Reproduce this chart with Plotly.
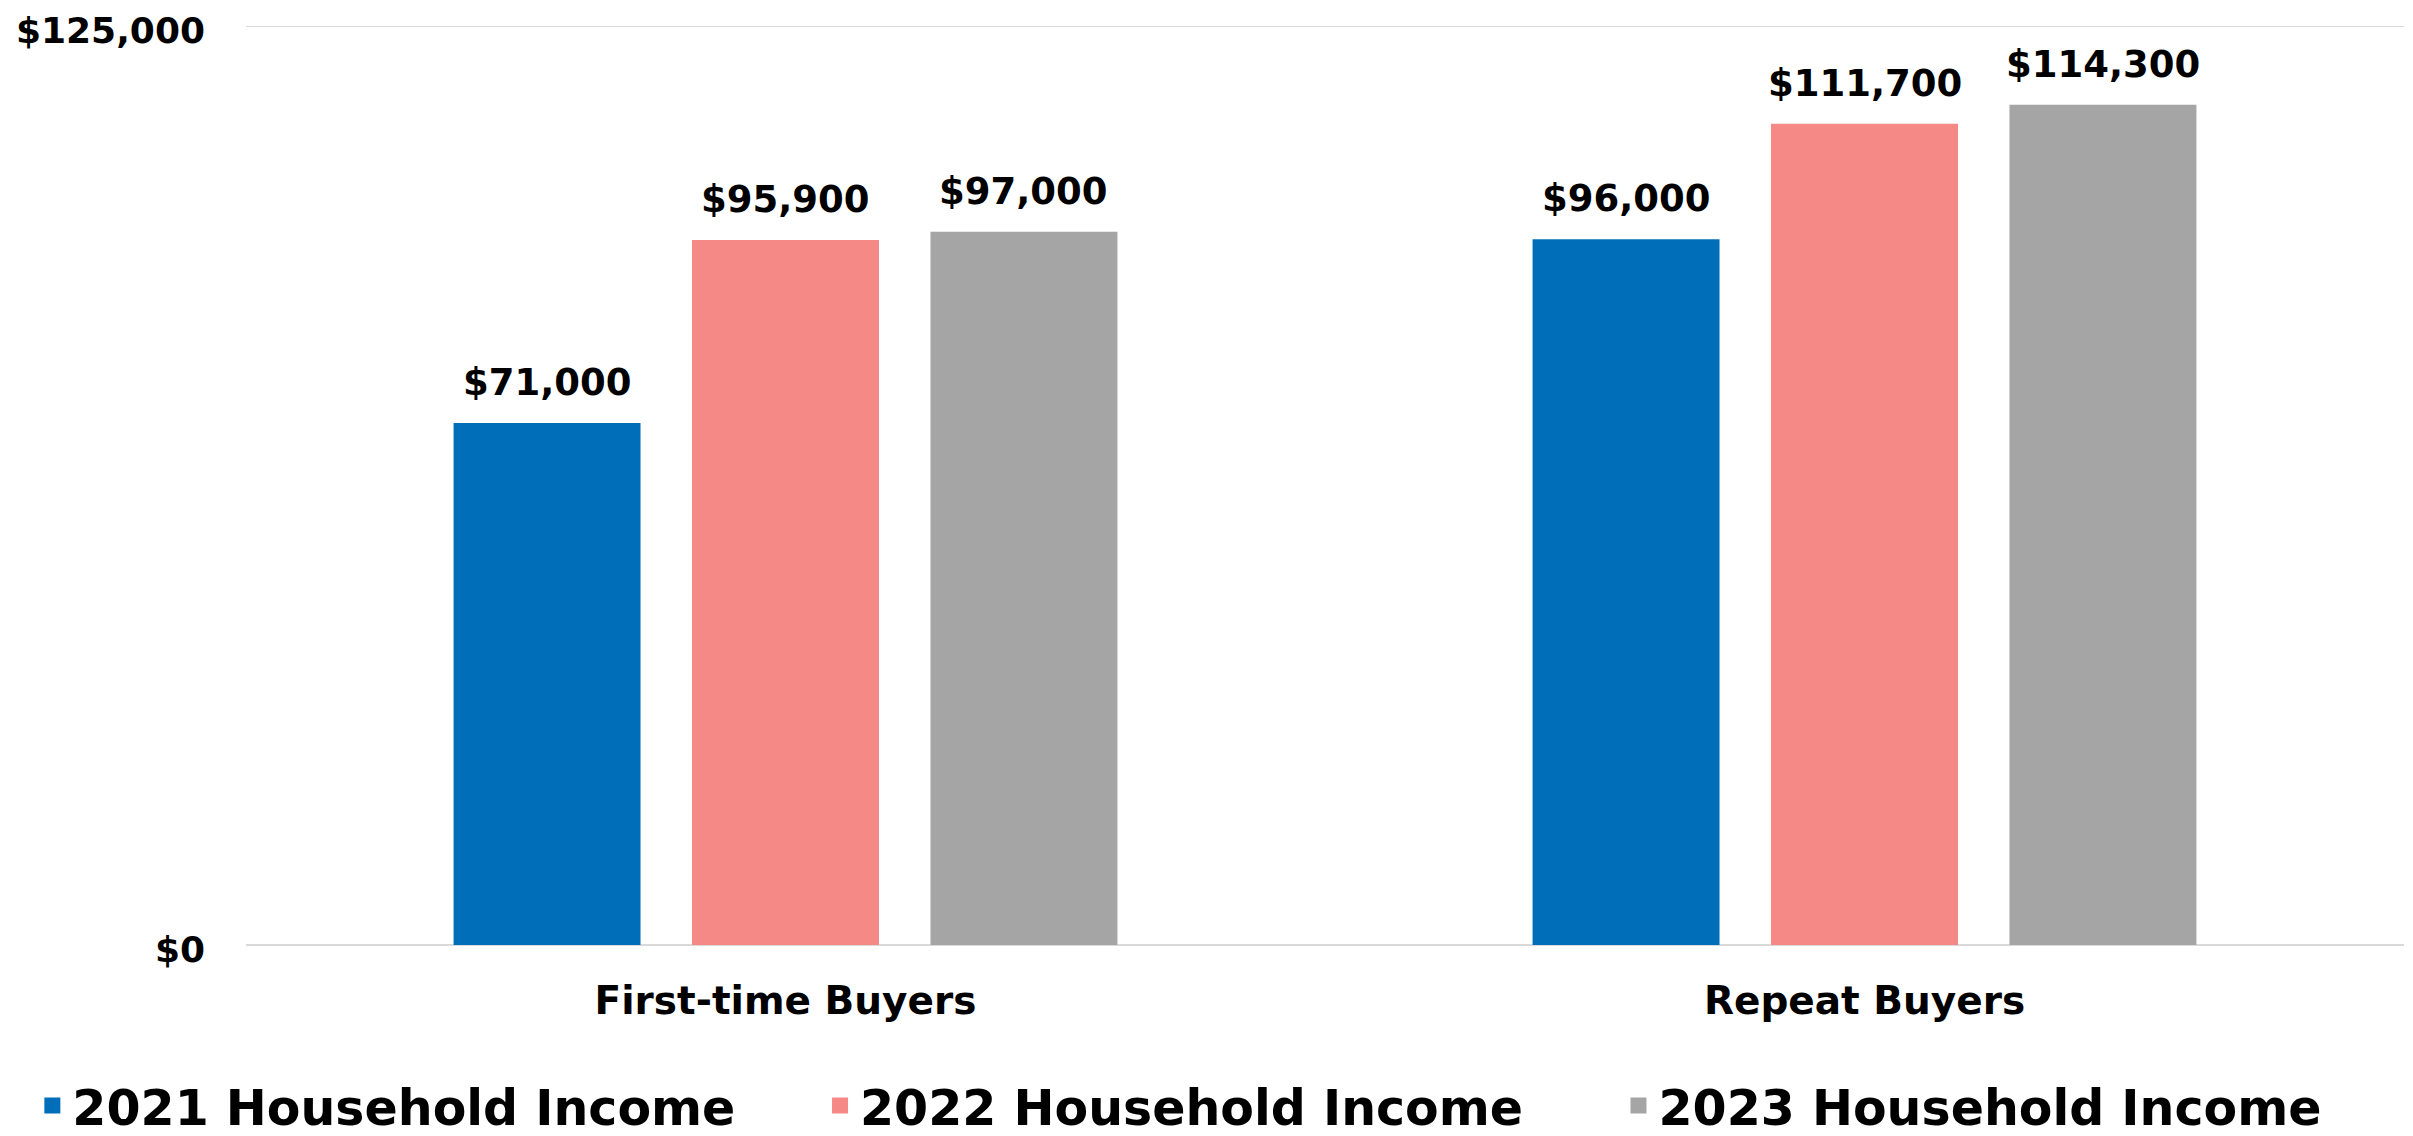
import plotly.graph_objects as go

categories = ["First-time Buyers", "Repeat Buyers"]
series_names = ["2021 Household Income", "2022 Household Income", "2023 Household Income"]
income_2021 = [71000, 96000]
income_2022 = [95900, 111700]
income_2023 = [97000, 114300]
colors = ["#006EB8", "#F48985", "#A5A5A5"]
y_tick_vals = [0, 125000]
y_tick_text = ["$0", "$125,000"]

FONT = "DejaVu Sans"
BARGAP = 0.337
BARGROUPGAP = 0.216
series_values = [income_2021, income_2022, income_2023]
legend_ids = ["legend", "legend2", "legend3"]
legend_x = [-0.099, 0.266, 0.636]

fig = go.Figure()
n = len(series_values)
slot = (1 - BARGAP) / n
for j, (name, vals, col) in enumerate(zip(series_names, series_values, colors)):
    fig.add_trace(go.Bar(
        x=categories, y=vals, name=f"<b>{name}</b>",
        marker=dict(color=col, line=dict(width=0)),
        legendgroup=name, showlegend=False,
        cliponaxis=False,
    ))
    # legend entry with a larger square swatch
    fig.add_trace(go.Scatter(
        x=[None], y=[None], mode="markers", name=f"<b>{name}</b>",
        marker=dict(color=col, symbol="square", size=30),
        legendgroup=name, legend=legend_ids[j], showlegend=True,
    ))
    for i, v in enumerate(vals):
        fig.add_annotation(
            x=i + (j - (n - 1) / 2) * slot, y=v, xref="x", yref="y",
            text=f"<b>${v:,.0f}</b>", showarrow=False,
            yanchor="bottom", xanchor="center", yshift=17,
            font=dict(family=FONT, size=37, color="#000000"),
        )

# horizontal gridline at the top tick value
fig.add_shape(type="line", xref="paper", yref="y", x0=0, x1=1,
              y0=y_tick_vals[-1], y1=y_tick_vals[-1],
              line=dict(color="#D9D9D9", width=2), layer="below")

legend_common = dict(orientation="h", xanchor="left", y=-0.133, yanchor="top",
                     font=dict(family=FONT, size=49, color="#000000"),
                     bgcolor="rgba(0,0,0,0)", itemsizing="trace")

# the page body adds an 8px offset, so the figure is 8px smaller
fig.update_layout(
    width=2405, height=1128,
    paper_bgcolor="white", plot_bgcolor="white",
    margin=dict(l=238, r=9, t=18, b=191, autoexpand=False),
    barmode="group", bargap=BARGAP, bargroupgap=BARGROUPGAP,
    font=dict(family=FONT, color="#000000"),
    showlegend=True,
    legend=dict(x=legend_x[0], **legend_common),
    legend2=dict(x=legend_x[1], **legend_common),
    legend3=dict(x=legend_x[2], **legend_common),
    xaxis=dict(showgrid=False, showline=False, zeroline=False,
               tickfont=dict(family=FONT, size=39, color="#000000"),
               ticks="", ticklabelstandoff=29,
               tickvals=categories, ticktext=[f"<b>{c}</b>" for c in categories]),
    yaxis=dict(range=[0, 125000], tickvals=y_tick_vals, ticktext=[f"<b>{t}</b>" for t in y_tick_text],
               showgrid=True, gridcolor="#D9D9D9", gridwidth=2, zeroline=True,
               zerolinecolor="#D9D9D9", zerolinewidth=2, showline=False,
               tickfont=dict(family=FONT, size=36, color="#000000"),
               ticklabelstandoff=40, ticklabeloverflow="allow", ticklabelshift=4),
)

fig.write_html("out.html")
